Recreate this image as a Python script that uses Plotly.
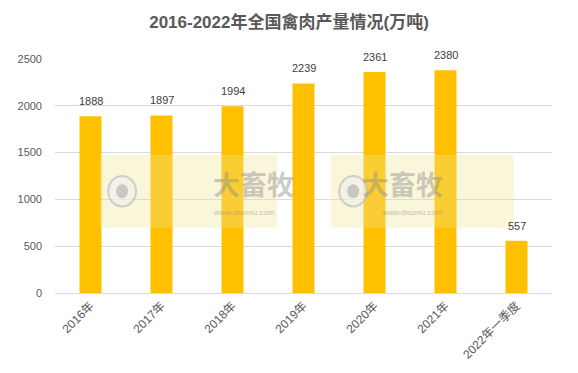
import plotly.graph_objects as go

categories = ["2016年", "2017年", "2018年", "2019年", "2020年", "2021年", "2022年一季度"]
values = [1888, 1897, 1994, 2239, 2361, 2380, 557]
y_ticks = [0, 500, 1000, 1500, 2000, 2500]
title_text = "2016-2022年全国禽肉产量情况(万吨)"

FONT = "Liberation Sans, Noto Sans CJK SC, sans-serif"

fig = go.Figure()
fig.add_trace(go.Bar(
    x=categories, y=values,
    marker=dict(color="#FFC000", line=dict(width=0)),
    width=0.31,
    cliponaxis=False,
))

for c, v in zip(categories, values):
    fig.add_annotation(x=c, y=v, text=str(v), showarrow=False,
                       yanchor="bottom", yshift=7,
                       font=dict(size=11, color="#404040", family=FONT))

# watermark-like boxes (decorative)
for x0, x1 in [(0.09, 0.447), (0.555, 0.923)]:
    fig.add_shape(type="rect", xref="paper", yref="paper",
                  x0=x0, x1=x1, y0=0.28, y1=0.59,
                  fillcolor="rgba(240,230,150,0.35)", line=dict(width=0), layer="above")
    fig.add_annotation(xref="paper", yref="paper", x=(x0 + x1) / 2 + 0.045, y=0.47,
                       text="<b>大畜牧</b>", showarrow=False,
                       font=dict(size=27, color="rgba(140,140,140,0.45)", family="Noto Sans CJK SC"))
    fig.add_annotation(xref="paper", yref="paper", x=(x0 + x1) / 2 + 0.045, y=0.345,
                       text="www.dxumu.com", showarrow=False,
                       font=dict(size=8, color="rgba(140,140,140,0.55)", family=FONT))
    fig.add_shape(type="circle", xref="paper", yref="paper",
                  x0=x0 + 0.017, x1=x0 + 0.073, y0=0.37, y1=0.5,
                  fillcolor="rgba(240,240,240,0.6)", line=dict(color="rgba(190,190,190,0.7)", width=2),
                  layer="above")
    fig.add_shape(type="circle", xref="paper", yref="paper",
                  x0=x0 + 0.033, x1=x0 + 0.057, y0=0.405, y1=0.465,
                  fillcolor="rgba(170,170,170,0.6)", line=dict(width=0), layer="above")

fig.update_layout(
    width=578, height=373,
    margin=dict(l=55, r=26, t=59, b=80),
    paper_bgcolor="white", plot_bgcolor="white",
    title=dict(text="<b>" + title_text + "</b>", x=0.5, xanchor="center",
               y=0.94, yanchor="middle",
               font=dict(size=17, color="#595959", family=FONT)),
    showlegend=False,
    bargap=0.69,
    xaxis=dict(tickangle=-45, tickfont=dict(size=12, color="#595959", family=FONT),
               showline=True, linecolor="#D9D9D9", linewidth=1, ticks="",
               showgrid=False),
    yaxis=dict(range=[0, 2500], tickvals=y_ticks, ticktext=[str(t) for t in y_ticks],
               tickfont=dict(size=11, color="#595959", family=FONT),
               showgrid=True, gridcolor="#D9D9D9", gridwidth=1,
               zeroline=False, ticks="", ticklabelstandoff=12),
)

fig.write_html("out.html")
